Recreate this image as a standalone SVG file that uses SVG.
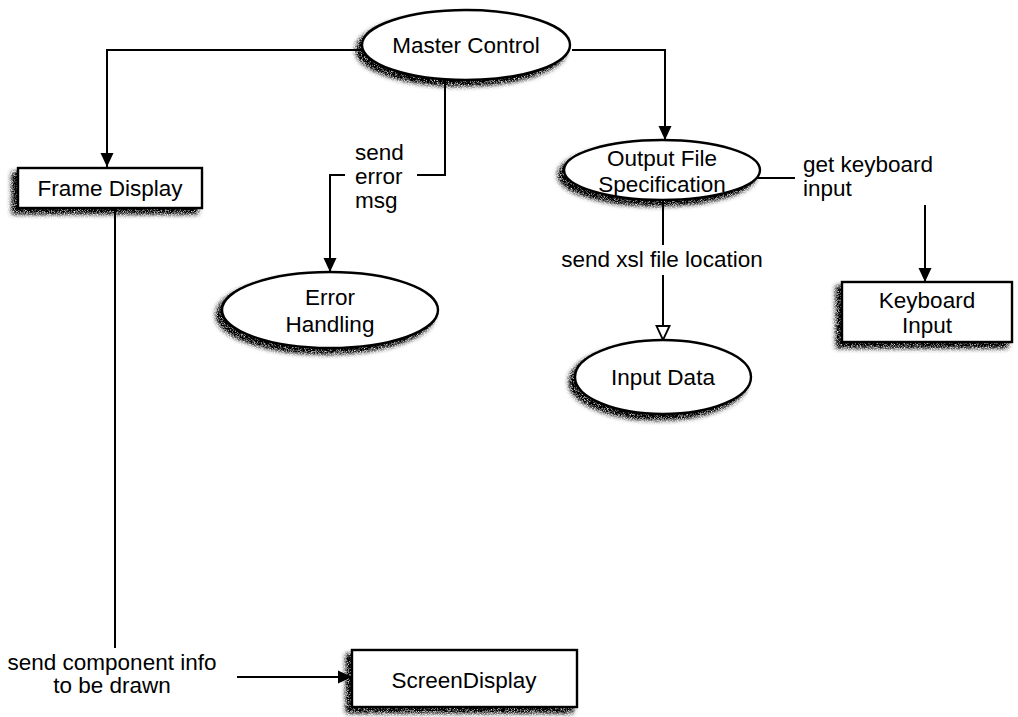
<svg xmlns="http://www.w3.org/2000/svg" width="1018" height="717" viewBox="0 0 1018 717">
  <defs>
    <style>
      .shape { fill: #ffffff; stroke: #000000; stroke-width: 2.4; filter: url(#shadow); }
      .edge { fill: none; stroke: #000000; stroke-width: 2; }
      text { font-family: "Liberation Sans", Arial, sans-serif; font-size: 22.5px; fill: #000000; }
      .c { text-anchor: middle; }
    </style>
    <!-- stippled drop shadow, cast down and to the left -->
    <filter id="shadow" x="-20%" y="-30%" width="140%" height="170%">
      <feGaussianBlur in="SourceAlpha" stdDeviation="2.5" result="blur"/>
      <feOffset in="blur" dx="-5" dy="5" result="off"/>
      <feTurbulence type="fractalNoise" baseFrequency="1.3" numOctaves="1" seed="3" result="noise"/>
      <feColorMatrix in="noise" type="matrix" values="0 0 0 0 0  0 0 0 0 0  0 0 0 0 0  0 0 0 2.2 -0.4" result="grain"/>
      <feComposite in="off" in2="grain" operator="in" result="grainy"/>
      <feComponentTransfer in="grainy" result="shade">
        <feFuncA type="linear" slope="1.4"/>
      </feComponentTransfer>
      <feMerge>
        <feMergeNode in="shade"/>
        <feMergeNode in="SourceGraphic"/>
      </feMerge>
    </filter>
    <marker id="solid" viewBox="0 0 14 14" refX="14" refY="7" markerWidth="14" markerHeight="14" markerUnits="userSpaceOnUse" orient="auto">
      <path d="M0,0.5 L14,7 L0,13.5 Z" fill="#000000"/>
    </marker>
    <marker id="hollow" viewBox="0 0 16 16" refX="15" refY="8" markerWidth="16" markerHeight="16" markerUnits="userSpaceOnUse" orient="auto">
      <path d="M1,1.5 L15,8 L1,14.5 Z" fill="#ffffff" stroke="#000000" stroke-width="1.8"/>
    </marker>
  </defs>

  <rect width="1018" height="717" fill="#ffffff"/>

  <!-- connectors and their labels -->
  <g id="connectors">
    <path class="edge" d="M362,50 H107 V167" marker-end="url(#solid)"/>
    <path class="edge" d="M572,50 H665 V140" marker-end="url(#solid)"/>
    <path class="edge" d="M445,79 V175 H417"/>
    <path class="edge" d="M345,175 H330 V272" marker-end="url(#solid)"/>
    <path class="edge" d="M756,178 H795"/>
    <path class="edge" d="M925,205 V282" marker-end="url(#solid)"/>
    <path class="edge" d="M663,200 V245"/>
    <path class="edge" d="M663,275 V340" marker-end="url(#hollow)"/>
    <path class="edge" d="M115,208 V648"/>
    <path class="edge" d="M237,677 H352" marker-end="url(#solid)"/>
    <text x="355" y="160">send</text>
    <text x="355" y="184">error</text>
    <text x="355" y="208">msg</text>
    <text x="803" y="172">get keyboard</text>
    <text x="803" y="196">input</text>
    <text x="662" y="267" class="c">send xsl file location</text>
    <text x="112" y="670" class="c">send component info</text>
    <text x="112" y="693" class="c">to be drawn</text>
  </g>

  <g id="master-control">
    <ellipse class="shape" cx="466" cy="45" rx="104" ry="35"/>
    <text x="466" y="53" class="c">Master Control</text>
  </g>

  <g id="frame-display">
    <rect class="shape" x="18" y="168" width="184" height="40"/>
    <text x="110" y="196" class="c">Frame Display</text>
  </g>

  <g id="error-handling">
    <ellipse class="shape" cx="330" cy="310" rx="108" ry="38"/>
    <text x="330" y="305" class="c">Error</text>
    <text x="330" y="332" class="c">Handling</text>
  </g>

  <g id="output-file-specification">
    <ellipse class="shape" cx="662" cy="170" rx="98" ry="30"/>
    <text x="662" y="166" class="c">Output File</text>
    <text x="662" y="192" class="c">Specification</text>
  </g>

  <g id="keyboard-input">
    <rect class="shape" x="842" y="282" width="170" height="60"/>
    <text x="927" y="308" class="c">Keyboard</text>
    <text x="927" y="333" class="c">Input</text>
  </g>

  <g id="input-data">
    <ellipse class="shape" cx="663" cy="377" rx="88" ry="37"/>
    <text x="663" y="385" class="c">Input Data</text>
  </g>

  <g id="screen-display">
    <rect class="shape" x="352" y="650" width="225" height="57"/>
    <text x="464" y="688" class="c">ScreenDisplay</text>
  </g>
</svg>
